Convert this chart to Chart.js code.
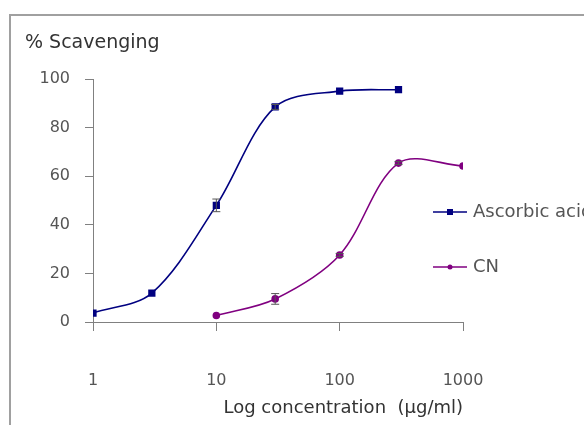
<!DOCTYPE html>
<html>
<head>
<meta charset="utf-8">
<script src="https://cdn.jsdelivr.net/npm/chart.js@4"></script>
<style>
  html, body { margin: 0; padding: 0; background: #fff; }
  #wrap { width: 584px; height: 425px; }
</style>
</head>
<body>
<div id="wrap"><canvas id="myChart" width="584" height="425"></canvas></div>
<script>
// data
const ascorbicX = [1, 3, 10, 30, 100, 300];
const ascorbicY = [3.7, 11.9, 48, 88.5, 95, 95.6];
const ascorbicErr = [0, 0, 2.6, 1, 0, 0];
const cnX = [10, 30, 100, 300, 1000];
const cnY = [2.7, 9.5, 27.6, 65.4, 64.2];
const cnErr = [0, 2.2, 0.6, 0.6, 0];
const xTicks = [1, 10, 100, 1000];
const yTicks = [0, 20, 40, 60, 80, 100];

const FONT = 'DejaVu Sans';

// frame, y title, error bars, legend
const extras = {
    id: 'extras',
    beforeDraw(chart) {
        const c = chart.ctx;
        c.save();
        c.fillStyle = '#fff';
        c.fillRect(0, 0, chart.width, chart.height);
        c.strokeStyle = '#a0a0a0';
        c.lineWidth = 2;
        c.beginPath();
        c.moveTo(10, chart.height);
        c.lineTo(10, 15);
        c.lineTo(chart.width, 15);
        c.stroke();
        c.fillStyle = '#333';
        c.font = '19px "' + FONT + '"';
        c.textBaseline = 'middle';
        c.fillText('% Scavenging', 25, 43);
        c.restore();
    },
    afterDatasetsDraw(chart) {
        const c = chart.ctx;
        const xs = chart.scales.x, ys = chart.scales.y;
        c.save();
        c.strokeStyle = '#555';
        c.lineWidth = 1;
        chart.data.datasets.forEach(ds => {
            ds.data.forEach((p, i) => {
                const e = ds.errors[i];
                if (!e) return;
                const px = xs.getPixelForValue(p.x);
                const y1 = ys.getPixelForValue(p.y - e);
                const y2 = ys.getPixelForValue(p.y + e);
                c.beginPath();
                c.moveTo(px, y1); c.lineTo(px, y2);
                c.moveTo(px - 4, y1); c.lineTo(px + 4, y1);
                c.moveTo(px - 4, y2); c.lineTo(px + 4, y2);
                c.stroke();
            });
        });
        // legend
        const items = [
            { label: 'Ascorbic acid', color: '#000080', style: 'rect', y: 212 },
            { label: 'CN', color: '#800080', style: 'circle', y: 267 },
        ];
        items.forEach(it => {
            c.strokeStyle = it.color;
            c.fillStyle = it.color;
            c.lineWidth = 1.5;
            c.beginPath();
            c.moveTo(433, it.y); c.lineTo(467, it.y);
            c.stroke();
            if (it.style === 'rect') {
                c.fillRect(447, it.y - 3, 6, 6);
            } else {
                c.beginPath();
                c.arc(450, it.y, 2.5, 0, Math.PI * 2);
                c.fill();
            }
            c.fillStyle = '#555';
            c.font = '18px "' + FONT + '"';
            c.textBaseline = 'middle';
            c.fillText(it.label, 473, it.y);
        });
        c.restore();
    }
};

const ctx = document.getElementById('myChart');
const myChart = new Chart(ctx, {
    type: 'line',
    data: {
        datasets: [{
            label: 'Ascorbic acid',
            data: ascorbicX.map((x, i) => ({ x: x, y: ascorbicY[i] })),
            errors: ascorbicErr,
            borderColor: '#000080',
            backgroundColor: '#000080',
            borderWidth: 1.6,
            pointStyle: 'rect',
            pointRadius: 4,
            tension: 0.33,
        }, {
            label: 'CN',
            data: cnX.map((x, i) => ({ x: x, y: cnY[i] })),
            errors: cnErr,
            borderColor: '#800080',
            backgroundColor: '#800080',
            borderWidth: 1.6,
            pointStyle: 'circle',
            pointRadius: 3,
            tension: 0.33,
        }]
    },
    options: {
        responsive: false,
        animation: false,
        layout: { padding: { left: 0, top: 79, right: 121, bottom: 0 } },
        plugins: {
            legend: { display: false },
            tooltip: { enabled: false },
        },
        scales: {
            x: {
                type: 'logarithmic',
                min: 1,
                max: 1000,
                afterBuildTicks: (scale) => {
                    scale.ticks = xTicks.map(v => ({ value: v }));
                },
                afterFit: (scale) => { scale.height = 103; },
                grid: {
                    drawOnChartArea: false,
                    drawTicks: true,
                    tickLength: 9,
                    color: '#808080',
                },
                border: { color: '#808080', width: 1 },
                ticks: {
                    autoSkip: false,
                    maxRotation: 0,
                    padding: 40,
                    color: '#555',
                    font: { family: FONT, size: 16 },
                    callback: (v) => String(v),
                },
                title: {
                    display: true,
                    align: 'end',
                    text: 'Log concentration  (µg/ml)',
                    color: '#333',
                    font: { family: FONT, size: 18 },
                    padding: { top: 0, bottom: 6 },
                },
            },
            y: {
                min: 0,
                max: 100,
                afterBuildTicks: (scale) => {
                    scale.ticks = yTicks.map(v => ({ value: v }));
                },
                afterFit: (scale) => { scale.width = 93; },
                grid: {
                    drawOnChartArea: false,
                    drawTicks: true,
                    tickLength: 8,
                    color: '#808080',
                },
                border: { color: '#808080', width: 1 },
                ticks: {
                    padding: 15,
                    color: '#555',
                    font: { family: FONT, size: 16 },
                },
            },
        },
    },
    plugins: [extras]
});
</script>
</body>
</html>
